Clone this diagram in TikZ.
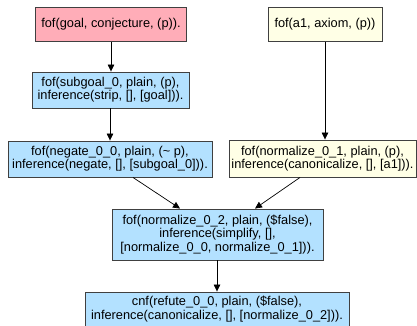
\documentclass[tikz,border=0pt]{standalone}
\usepackage{fontspec}
\setmainfont{Liberation Sans}
\usetikzlibrary{arrows.meta,calc}
\definecolor{pinkf}{HTML}{FFADB8}
\definecolor{bluef}{HTML}{B3E1FF}
\definecolor{yelf}{HTML}{FFFFE6}
\definecolor{bord}{HTML}{404040}
\begin{document}
\begin{tikzpicture}[x=1pt,y=-1pt,
  box/.style={draw=bord,line width=0.9pt,inner sep=0pt,align=center,font=\fontsize{12.8}{13.2}\selectfont},
  arr/.style={-{Triangle[length=7pt,width=6.5pt]},line width=0.7pt,black}]
\useasboundingbox (0,0) rectangle (417,326);
\node[box,fill=pinkf,minimum width=151pt,minimum height=34pt] (goal) at (111,24.5) {fof(goal, conjecture, (p)).};
\node[box,fill=bluef,minimum width=157pt,minimum height=36pt] (sub) at (110.5,90) {fof(subgoal\_0, plain, (p),\\inference(strip, [], [goal])).};
\node[box,fill=bluef,minimum width=204pt,minimum height=36pt] (neg) at (110,159) {fof(negate\_0\_0, plain, ({\char`\~} p),\\inference(negate, [], [subgoal\_0])).};
\node[box,fill=yelf,minimum width=114pt,minimum height=34pt] (a1) at (325,24.5) {fof(a1, axiom, (p))};
\node[box,fill=yelf,minimum width=187pt,minimum height=37pt] (n01) at (322.5,158.5) {fof(normalize\_0\_1, plain, (p),\\inference(canonicalize, [], [a1])).};
\node[box,fill=bluef,minimum width=211pt,minimum height=51pt] (n02) at (217.5,234.5) {fof(normalize\_0\_2, plain, (\$false),\\inference(simplify, [],\\{[}normalize\_0\_0, normalize\_0\_1])).};
\node[box,fill=bluef,minimum width=264pt,minimum height=34pt] (ref) at (217,309) {cnf(refute\_0\_0, plain, (\$false),\\inference(canonicalize, [], [normalize\_0\_2])).};
\draw[arr] (goal.south) -- (goal.south |- sub.north);
\draw[arr] (sub.south -| neg.north) -- (neg.north);
\draw[arr] (a1.south) -- (a1.south |- n01.north);
\draw[arr] ($(neg.south)+(23,0)$) -- ($(n02.north)+(-37.5,0)$);
\draw[arr] ($(n01.south)+(-22.5,0)$) -- ($(n02.north)+(37.5,0)$);
\draw[arr] (n02.south -| ref.north) -- (ref.north);
\end{tikzpicture}
\end{document}
